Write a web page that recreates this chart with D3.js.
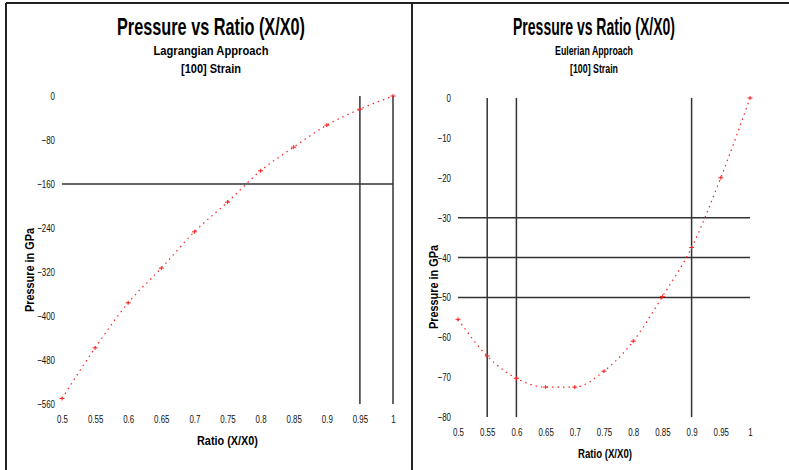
<!DOCTYPE html>
<html>
<head>
<meta charset="utf-8">
<script src="https://cdn.jsdelivr.net/npm/d3@7"></script>
<style>
  body { margin: 0; background: #fff; }
  text { font-family: "Liberation Sans", Arial, sans-serif; }
</style>
</head>
<body>
<div id="chart"></div>
<script>
// data
const ratios = [0.5, 0.55, 0.6, 0.65, 0.7, 0.75, 0.8, 0.85, 0.9, 0.95, 1];
const lagrangePressure = [-550, -458, -376, -313, -247, -193, -136, -93, -53, -24, 0];
const eulerPressure = [-55.5, -64.7, -70.3, -72.5, -72.5, -68.5, -61, -49.8, -37.5, -20, 0];

const xTicks = [0.5, 0.55, 0.6, 0.65, 0.7, 0.75, 0.8, 0.85, 0.9, 0.95, 1];
const lagrangeYTicks = [0, -80, -160, -240, -320, -400, -480, -560];
const eulerYTicks = [0, -10, -20, -30, -40, -50, -60, -70, -80];

const lagrangeVLines = [0.95, 1];
const lagrangeHLines = [-160];
const eulerVLines = [0.55, 0.6, 0.9];
const eulerHLines = [-30, -40, -50];

const svg = d3.select("#chart").append("svg")
  .attr("width", 789)
  .attr("height", 470);

// squeeze text horizontally, the original uses a narrow face
function squeeze(sel, k) {
  sel.each(function () {
    const w = this.getComputedTextLength();
    d3.select(this).attr("textLength", w * k).attr("lengthAdjust", "spacingAndGlyphs");
  });
}

// frame
svg.append("line").attr("x1", 6).attr("x2", 6).attr("y1", 3).attr("y2", 470).attr("stroke", "#222").attr("stroke-width", 2);
svg.append("line").attr("x1", 6).attr("x2", 789).attr("y1", 3).attr("y2", 3).attr("stroke", "#222").attr("stroke-width", 2);
svg.append("line").attr("x1", 412).attr("x2", 412).attr("y1", 3).attr("y2", 470).attr("stroke", "#222").attr("stroke-width", 2);

function panel(opts) {
  const g = svg.append("g");
  const x = d3.scaleLinear().domain([0.5, 1]).range(opts.xRange);
  const y = d3.scaleLinear().domain(opts.yDomain).range(opts.yRange);

  // titles
  g.append("text").attr("x", opts.cx).attr("y", 35)
    .attr("text-anchor", "middle").attr("font-size", 24).attr("font-weight", "bold")
    .attr("textLength", opts.titleW).attr("lengthAdjust", "spacingAndGlyphs")
    .text("Pressure vs Ratio (X/X0)");
  g.append("text").attr("x", opts.cx).attr("y", 55)
    .attr("text-anchor", "middle").attr("font-size", 12).attr("font-weight", "bold")
    .attr("textLength", opts.subW).attr("lengthAdjust", "spacingAndGlyphs")
    .text(opts.subtitle);
  g.append("text").attr("x", opts.cx).attr("y", 73)
    .attr("text-anchor", "middle").attr("font-size", 12).attr("font-weight", "bold")
    .attr("textLength", opts.strainW).attr("lengthAdjust", "spacingAndGlyphs")
    .text("[100] Strain");

  // x axis (labels only)
  const xa = g.append("g")
    .attr("transform", `translate(0,${opts.yRange[0] + 8})`)
    .call(d3.axisBottom(x).tickValues(xTicks).tickSize(0).tickFormat(d3.format("")));
  xa.select(".domain").remove();
  xa.selectAll("text").attr("font-size", 11).attr("fill", "#111")
    .style("font-family", "'Liberation Sans', Arial, sans-serif")
    .call(squeeze, 0.72);

  // y axis (labels only)
  const ya = g.append("g")
    .attr("transform", `translate(${opts.xRange[0] - 4},0)`)
    .call(d3.axisLeft(y).tickValues(opts.yTicks).tickSize(0).tickFormat(d3.format("")));
  ya.select(".domain").remove();
  ya.selectAll("text").attr("font-size", 11).attr("fill", "#111")
    .style("font-family", "'Liberation Sans', Arial, sans-serif")
    .call(squeeze, 0.72);

  // axis titles
  g.append("text").attr("x", opts.xTitleX).attr("y", opts.xTitleY)
    .attr("font-size", 13).attr("font-weight", "bold")
    .attr("textLength", opts.xTitleW).attr("lengthAdjust", "spacingAndGlyphs")
    .text("Ratio (X/X0)");
  g.append("text")
    .attr("transform", `translate(${opts.yTitleX},${opts.yTitleY}) rotate(-90)`)
    .attr("text-anchor", "middle").attr("font-size", 13).attr("font-weight", "bold")
    .attr("textLength", 84).attr("lengthAdjust", "spacingAndGlyphs")
    .text("Pressure in GPa");

  // reference lines
  g.selectAll(".vline").data(opts.vLines).enter().append("line")
    .attr("x1", d => x(d)).attr("x2", d => x(d))
    .attr("y1", y(0)).attr("y2", y(opts.yDomain[0]))
    .attr("stroke", "#333").attr("stroke-width", 1.5);
  g.selectAll(".hline").data(opts.hLines).enter().append("line")
    .attr("x1", x(0.5)).attr("x2", x(1))
    .attr("y1", d => y(d)).attr("y2", d => y(d))
    .attr("stroke", "#333").attr("stroke-width", 1.5);

  // data
  const pts = ratios.map((r, i) => [r, opts.values[i]]);
  g.append("path").datum(pts)
    .attr("d", d3.line().x(d => x(d[0])).y(d => y(d[1])).curve(d3.curveMonotoneX))
    .attr("fill", "none").attr("stroke", "#ff2020").attr("stroke-width", 1.2)
    .attr("stroke-dasharray", "1.5,4");

  g.selectAll(".mark").data(pts).enter().append("path")
    .attr("transform", d => `translate(${x(d[0])},${y(d[1])})`)
    .attr("d", "M-2.5,0H2.5M0,-2V2")
    .attr("stroke", "#ff2020").attr("stroke-width", 1);
}

panel({
  subtitle: "Lagrangian Approach",
  cx: 211,
  titleW: 188, subW: 115, strainW: 60, xTitleW: 61,
  xRange: [62, 393],
  yDomain: [-560, 0],
  yRange: [404, 96],
  yTicks: lagrangeYTicks,
  values: lagrangePressure,
  vLines: lagrangeVLines,
  hLines: lagrangeHLines,
  xTitleX: 197, xTitleY: 445,
  yTitleX: 34, yTitleY: 270
});

panel({
  subtitle: "Eulerian Approach",
  cx: 594,
  titleW: 162, subW: 78, strainW: 48, xTitleW: 54,
  xRange: [458, 750],
  yDomain: [-80, 0],
  yRange: [417, 98],
  yTicks: eulerYTicks,
  values: eulerPressure,
  vLines: eulerVLines,
  hLines: eulerHLines,
  xTitleX: 578, xTitleY: 458,
  yTitleX: 438, yTitleY: 287
});
</script>
</body>
</html>
